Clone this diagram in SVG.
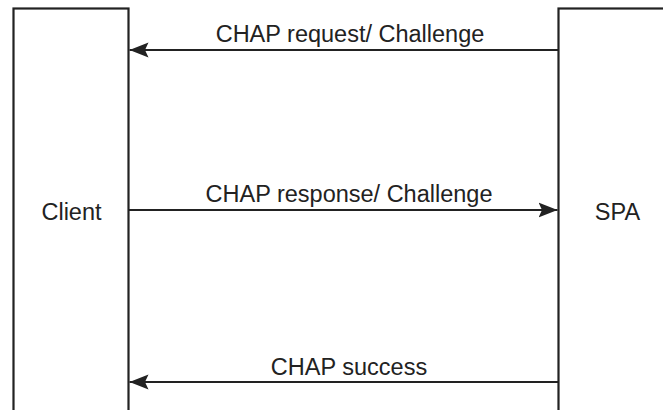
<svg xmlns="http://www.w3.org/2000/svg" width="663" height="410" viewBox="0 0 663 410">
  <style>
    .box { fill: #ffffff; stroke: #222222; stroke-width: 2.2; }
    .msg { stroke: #222222; stroke-width: 2.2; fill: none; marker-end: url(#arrow); }
    .lbl { font-family: "Liberation Sans", Arial, sans-serif; font-size: 23.5px; fill: #222222; }
  </style>
  <defs>
    <marker id="arrow" markerUnits="userSpaceOnUse" markerWidth="22" markerHeight="18" viewBox="0 -9 22 18" refX="19" refY="0" orient="auto">
      <path d="M0,-7.5 L19,0 L0,7.5 L3.5,0 Z" fill="#222222"/>
    </marker>
  </defs>
  <rect width="663" height="410" fill="#ffffff"/>
  <g id="client">
    <rect class="box" x="13.5" y="8.5" width="115" height="420"/>
    <text class="lbl" x="71.5" y="219.5" text-anchor="middle">Client</text>
  </g>
  <g id="spa">
    <rect class="box" x="558.5" y="8.5" width="120" height="420"/>
    <text class="lbl" x="617.5" y="219.5" text-anchor="middle">SPA</text>
  </g>
  <g id="connectors">
    <line class="msg" x1="558" y1="50" x2="129.5" y2="50"/>
    <text class="lbl" x="350" y="41.5" text-anchor="middle">CHAP request/ Challenge</text>
    <line class="msg" x1="128.5" y1="210" x2="557.5" y2="210"/>
    <text class="lbl" x="349" y="201.5" text-anchor="middle">CHAP response/ Challenge</text>
    <line class="msg" x1="558" y1="382" x2="129.5" y2="382"/>
    <text class="lbl" x="349" y="375" text-anchor="middle">CHAP success</text>
  </g>
</svg>
